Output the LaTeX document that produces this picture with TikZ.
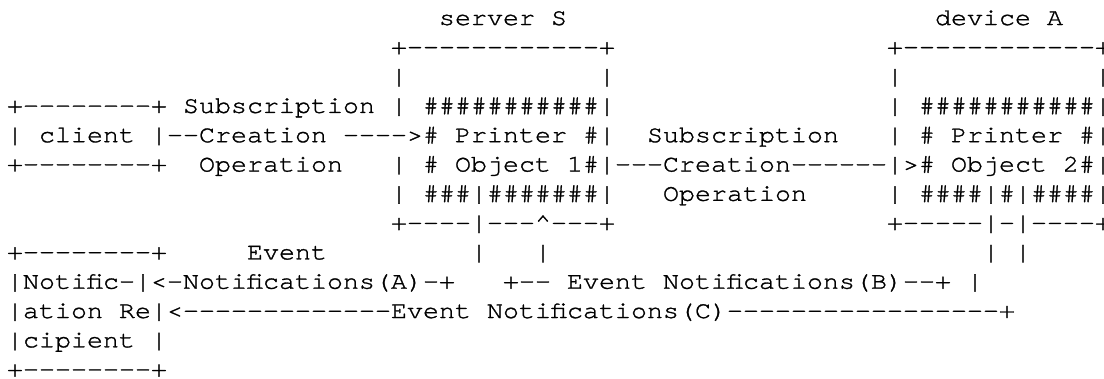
\documentclass[tikz,border=0pt]{standalone}
\usepackage{fontspec}
\setmonofont{TeX Gyre Cursor}[FakeStretch=1.1111,FakeBold=1.2]
\newcommand\gap[1]{\hskip #1\fontdimen2\font\relax}
\tikzset{
  asciirow/.style={anchor=base west, inner sep=0pt, outer sep=0pt,
    font=\ttfamily\fontsize{24pt}{24pt}\selectfont, text=black}
}
\begin{document}
\begin{tikzpicture}
\fill[white] (0,0) rectangle (1104pt,-378pt);
\useasboundingbox (0,0) rectangle (1104pt,-378pt);
\node[asciirow] (r1) at (7pt,-25pt) {\gap{27}server~S\gap{23}device~A};
\node[asciirow] (r2) at (7pt,-54.3pt) {\gap{24}+------------+\gap{17}+------------+};
\node[asciirow] (r3) at (7pt,-83.6pt) {\gap{24}|\gap{12}|\gap{17}|\gap{12}|};
\node[asciirow] (r4) at (7pt,-112.9pt) {+--------+~Subscription~|~\#\#\#\#\#\#\#\#\#\#\#|\gap{17}|~\#\#\#\#\#\#\#\#\#\#\#|};
\node[asciirow] (r5) at (7pt,-142.2pt) {|~client~|--Creation~---->\#~Printer~\#|~~Subscription\gap{3}|~\#~Printer~\#|};
\node[asciirow] (r6) at (7pt,-171.5pt) {+--------+~~Operation~~~|~\#~Object~1\#|---Creation------|>\#~Object~2\#|};
\node[asciirow] (r7) at (7pt,-200.8pt) {\gap{24}|~\#\#\#|\#\#\#\#\#\#\#|~~~Operation\gap{5}|~\#\#\#\#|\#|\#\#\#\#|};
\node[asciirow] (r8) at (7pt,-230.1pt) {\gap{24}+----|---\textasciicircum---+\gap{17}+-----|-|----+};
\node[asciirow] (r9) at (7pt,-259.4pt) {+--------+\gap{5}Event\gap{9}|\gap{3}|\gap{27}|~|};
\node[asciirow] (r10) at (7pt,-288.7pt) {|Notific-|<-Notifications(A)-+\gap{3}+--~Event~Notifications(B)--+~|};
\node[asciirow] (r11) at (7pt,-318pt) {|ation~Re|<-------------Event~Notifications(C)-----------------+};
\node[asciirow] (r12) at (7pt,-347.3pt) {|cipient~|};
\node[asciirow] (r13) at (7pt,-376.6pt) {+--------+};
\end{tikzpicture}
\end{document}
